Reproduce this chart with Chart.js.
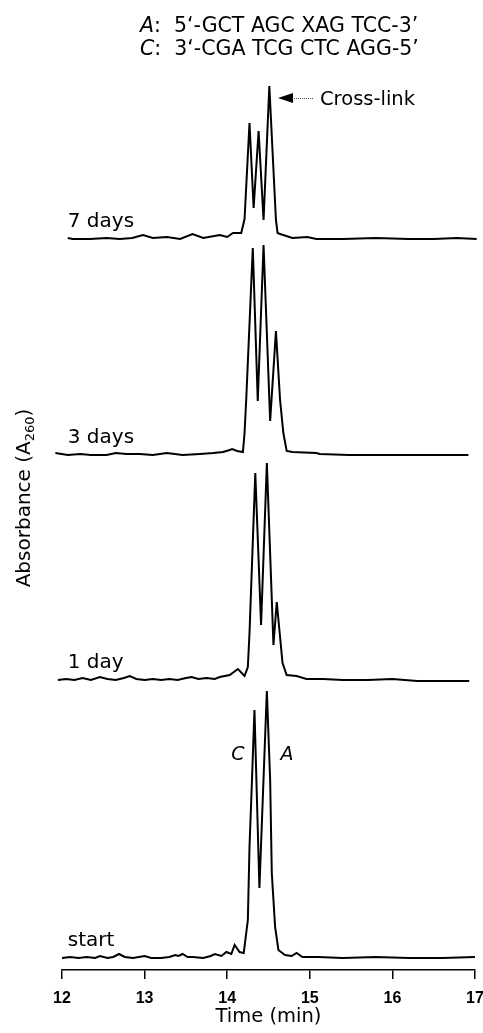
<!DOCTYPE html>
<html>
<head>
<meta charset="utf-8">
<script src="https://cdn.jsdelivr.net/npm/chart.js@4.4.0/dist/chart.umd.min.js"></script>
<style>
  html, body { margin: 0; padding: 0; background: #fff; overflow: hidden; }
  canvas { display: block; }
</style>
</head>
<body>
<canvas id="chromChart" width="483" height="1033"></canvas>
<script>
// HPLC traces of the A/C duplex - start, 1 day, 3 days, 7 days

const FONT = '"DejaVu Sans", sans-serif';

// trace names and their vertical stacking offsets (absorbance units)
const TRACE_LABELS = ['start', '1 day', '3 days', '7 days'];
const TRACE_OFFSETS = [12, 290, 515, 731];

// x axis ticks (min)
const TIME_TICKS = [12, 13, 14, 15, 16, 17];

// start
const START_T = [12.00, 12.10, 12.20, 12.30, 12.40, 12.46, 12.55, 12.62, 12.69, 12.76, 12.86, 13.00, 13.08,
    13.20, 13.30, 13.37, 13.41, 13.46, 13.52, 13.58, 13.71, 13.80, 13.85, 13.93, 13.99, 14.05, 14.09, 14.15,
    14.20, 14.25, 14.27, 14.30, 14.33, 14.39, 14.48, 14.52, 14.54, 14.58, 14.62, 14.70, 14.78, 14.84, 14.91,
    15.10, 15.40, 15.80, 16.20, 16.60, 17.00];
const START_A = [0, 1, 0, 1, 0, 2, 0, 1, 4, 1, 0, 2, 0,
    0, 1, 3, 2, 4, 1, 1, 0, 2, 4, 2, 6, 4, 13, 6,
    5, 38, 111, 178, 248, 70, 267, 178, 85, 31, 8, 3, 2, 5, 1,
    1, 0, 1, 0, 0, 1];

// 1 day
const DAY1_T = [11.95, 12.05, 12.15, 12.25, 12.35, 12.46, 12.55, 12.65, 12.75, 12.82, 12.90, 13.00, 13.10,
    13.20, 13.30, 13.40, 13.50, 13.57, 13.65, 13.75, 13.85, 13.91, 14.03, 14.13, 14.21, 14.25, 14.27, 14.34,
    14.41, 14.48, 14.56, 14.60, 14.64, 14.67, 14.72, 14.84, 14.96, 15.16, 15.40, 15.70, 16.00, 16.30, 16.60, 16.93];
const DAY1_A = [0, 1, 0, 2, 0, 3, 1, 0, 2, 4, 1, 0, 1,
    0, 1, 0, 2, 3, 1, 2, 1, 3, 5, 11, 4, 13, 47, 207,
    55, 217, 35, 78, 43, 17, 5, 4, 1, 1, 0, 0, 1, -1, -1, -1];

// 3 days
const DAY3_T = [11.92, 12.07, 12.22, 12.35, 12.54, 12.65, 12.78, 12.94, 13.10, 13.27, 13.46, 13.67, 13.83,
    13.95, 14.03, 14.06, 14.12, 14.19, 14.21, 14.23, 14.31, 14.37, 14.44, 14.52, 14.59, 14.64, 14.68, 14.72,
    14.79, 15.08, 15.12, 15.48, 15.80, 16.20, 16.60, 16.92];
const DAY3_A = [2, 0, 1, 0, 0, 2, 1, 1, 0, 2, 0, 1, 2,
    3, 5, 6, 4, 3, 22, 55, 207, 54, 210, 34, 124, 55, 22, 4,
    3, 2, 1, 0, 0, 0, 0, 0];

// 7 days
const DAY7_T = [12.07, 12.13, 12.34, 12.54, 12.70, 12.85, 12.98, 13.10, 13.27, 13.43, 13.58, 13.71, 13.91,
    14.00, 14.07, 14.17, 14.21, 14.27, 14.32, 14.38, 14.44, 14.51, 14.59, 14.61, 14.64, 14.79, 14.97, 15.08,
    15.40, 15.80, 16.20, 16.50, 16.78, 17.02];
const DAY7_A = [1, 0, 0, 1, 0, 1, 4, 1, 2, 0, 5, 1, 4,
    2, 6, 6, 20, 116, 31, 108, 19, 153, 19, 6, 5, 1, 2, 0,
    0, 1, 0, 0, 1, 0];

const TRACE_T = [START_T, DAY1_T, DAY3_T, DAY7_T];
const TRACE_A = [START_A, DAY1_A, DAY3_A, DAY7_A];

// annotation texts
const STRAND_A = ['A', ':  5\u2018-GCT AGC XAG TCC-3\u2019'];
const STRAND_C = ['C', ':  3\u2018-CGA TCG CTC AGG-5\u2019'];
const ARROW_TEXT = 'Cross-link';

function buildPoints(times, values, offset) {
    return times.map((t, i) => ({ x: t, y: offset + values[i] }));
}

// draw a run of [italic, normal] pieces
function drawRuns(ctx, x, y, runs, size) {
    runs.forEach((txt, i) => {
        ctx.font = (i === 0 ? 'italic ' : '') + size + 'px ' + FONT;
        ctx.fillText(txt, x, y);
        x += ctx.measureText(txt).width;
    });
}

const textLayer = {
    id: 'textLayer',
    afterDraw(chart) {
        const ctx = chart.ctx;
        const xs = chart.scales.x;
        const ys = chart.scales.y;
        ctx.save();
        ctx.fillStyle = '#000';
        ctx.textBaseline = 'alphabetic';
        ctx.textAlign = 'left';

        // sequences
        drawRuns(ctx, 140, 32, STRAND_A, 20.5);
        drawRuns(ctx, 140, 55, STRAND_C, 20.5);

        // cross-link arrow
        ctx.beginPath();
        ctx.moveTo(278, 98);
        ctx.lineTo(293, 93);
        ctx.lineTo(293, 103);
        ctx.closePath();
        ctx.fill();
        ctx.strokeStyle = '#444';
        ctx.lineWidth = 1;
        ctx.setLineDash([1, 1]);
        ctx.beginPath();
        ctx.moveTo(292, 98.5);
        ctx.lineTo(313, 98.5);
        ctx.stroke();
        ctx.setLineDash([]);
        ctx.font = '19.5px ' + FONT;
        ctx.fillText(ARROW_TEXT, 320, 105);

        // trace labels
        TRACE_LABELS.forEach((lbl, i) => {
            ctx.font = '20px ' + FONT;
            ctx.fillText(lbl, xs.getPixelForValue(12.07), ys.getPixelForValue(TRACE_OFFSETS[i]) - 12);
        });

        // peak labels on start trace
        ctx.font = 'italic 19px ' + FONT;
        ctx.textAlign = 'center';
        ctx.fillText('C', 238, 760);
        ctx.fillText('A', 287, 760);

        // y axis title with subscript
        ctx.translate(23, 498);
        ctx.rotate(-Math.PI / 2);
        ctx.textAlign = 'left';
        const main = 'Absorbance (A';
        ctx.font = '20px ' + FONT;
        const w1 = ctx.measureText(main).width;
        ctx.font = '13px ' + FONT;
        const w2 = ctx.measureText('260').width;
        ctx.font = '20px ' + FONT;
        const w3 = ctx.measureText(')').width;
        let x0 = -(w1 + w2 + w3) / 2;
        ctx.fillText(main, x0, 7);
        ctx.font = '13px ' + FONT;
        ctx.fillText('260', x0 + w1, 11);
        ctx.font = '20px ' + FONT;
        ctx.fillText(')', x0 + w1 + w2, 7);
        ctx.restore();
    }
};

const datasets = TRACE_T.map((times, i) => ({
    label: TRACE_LABELS[i],
    data: buildPoints(times, TRACE_A[i], TRACE_OFFSETS[i]),
    borderColor: '#000',
    borderWidth: 2,
    pointRadius: 0,
    tension: 0,
    fill: false,
    clip: false
}));

new Chart(document.getElementById('chromChart').getContext('2d'), {
    type: 'line',
    data: { datasets },
    options: {
        responsive: false,
        animation: false,
        events: [],
        layout: { padding: { left: 62, right: 8, top: 70, bottom: 0 } },
        plugins: {
            legend: { display: false },
            tooltip: { enabled: false }
        },
        scales: {
            x: {
                type: 'linear',
                min: TIME_TICKS[0],
                max: TIME_TICKS[TIME_TICKS.length - 1],
                afterFit: scale => {
                    scale.height = 63;
                    scale.paddingLeft = 0;
                    scale.paddingRight = 0;
                },
                ticks: {
                    stepSize: 1,
                    color: '#000',
                    padding: 10,
                    maxRotation: 0,
                    font: { family: 'Arimo, "Liberation Sans", sans-serif', size: 16, weight: 'bold' }
                },
                grid: {
                    drawOnChartArea: false,
                    drawTicks: true,
                    tickLength: 9,
                    color: '#000',
                    lineWidth: 1.5
                },
                border: { display: true, color: '#000', width: 1.5 },
                title: {
                    display: true,
                    text: 'Time (min)',
                    color: '#000',
                    font: { family: FONT, size: 19.5 },
                    padding: { top: 0, bottom: 4 }
                }
            },
            y: {
                display: false,
                min: 0,
                max: 900
            }
        }
    },
    plugins: [textLayer]
});
</script>
</body>
</html>
